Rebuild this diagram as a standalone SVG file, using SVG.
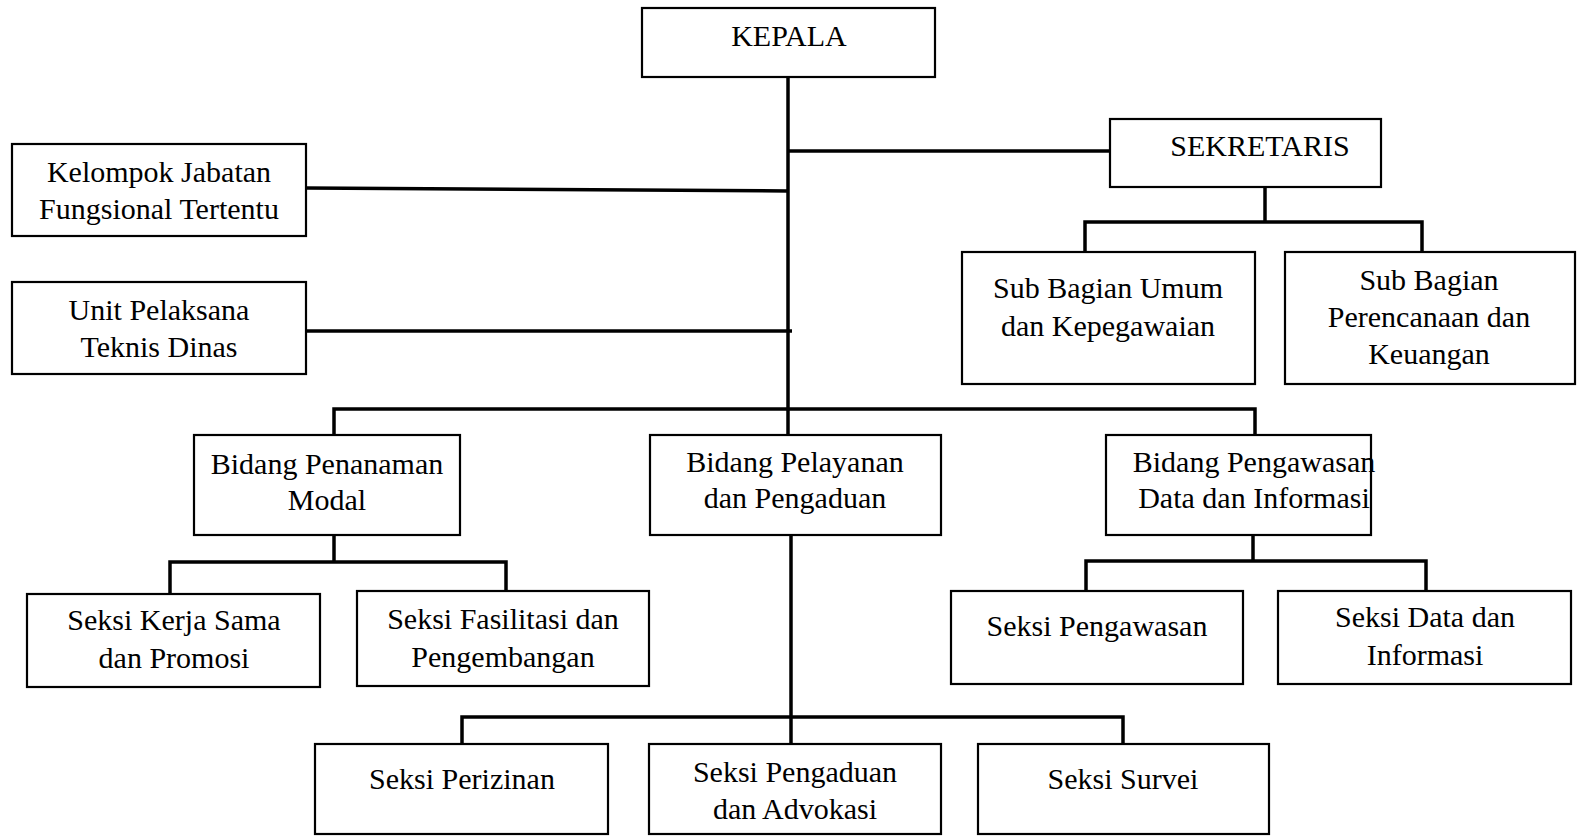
<svg xmlns="http://www.w3.org/2000/svg" width="1577" height="836" viewBox="0 0 1577 836">
<style>
.box{fill:#fff;stroke:#000;stroke-width:2.2}
.t{font-family:"Liberation Serif","Times New Roman",serif;font-size:30px;fill:#000;text-anchor:middle}
.c{fill:none;stroke:#000;stroke-width:3.5;stroke-linecap:butt;stroke-linejoin:miter}
</style>
<rect width="1577" height="836" fill="#fff"/>
<g id="connectors">
<path class="c" d="M788 77 V409"/>
<path class="c" d="M788 151 H1110"/>
<path class="c" d="M306 188 L788 191"/>
<path class="c" d="M306 331 H792"/>
<path class="c" d="M334 435 V409 H1255 V435"/>
<path class="c" d="M788 409 V435"/>
<path class="c" d="M1265 188 V222"/>
<path class="c" d="M1085 252 V222 H1422 V252"/>
<path class="c" d="M334 535 V562"/>
<path class="c" d="M170 594 V562 H506 V591"/>
<path class="c" d="M1253 535 V561"/>
<path class="c" d="M1086 591 V561 H1426 V591"/>
<path class="c" d="M791 535 V744"/>
<path class="c" d="M462 744 V717 H1123 V744"/>
</g>
<g id="kepala"><rect class="box" x="642" y="8" width="293" height="69"/><text class="t" x="789" y="46">KEPALA</text></g>
<g id="sekretaris"><rect class="box" x="1110" y="119" width="271" height="68"/><text class="t" x="1260" y="156">SEKRETARIS</text></g>
<g id="kelompok"><rect class="box" x="12" y="144" width="294" height="92"/><text class="t" x="159" y="182">Kelompok Jabatan</text><text class="t" x="159" y="219">Fungsional Tertentu</text></g>
<g id="upt"><rect class="box" x="12" y="282" width="294" height="92"/><text class="t" x="159" y="320">Unit Pelaksana</text><text class="t" x="159" y="357">Teknis Dinas</text></g>
<g id="subumum"><rect class="box" x="962" y="252" width="293" height="132"/><text class="t" x="1108" y="298">Sub Bagian Umum</text><text class="t" x="1108" y="336">dan Kepegawaian</text></g>
<g id="subrencana"><rect class="box" x="1285" y="252" width="290" height="132"/><text class="t" x="1429" y="290">Sub Bagian</text><text class="t" x="1429" y="327">Perencanaan dan</text><text class="t" x="1429" y="364">Keuangan</text></g>
<g id="bidpm"><rect class="box" x="194" y="435" width="266" height="100"/><text class="t" x="327" y="474">Bidang Penanaman</text><text class="t" x="327" y="510">Modal</text></g>
<g id="bidpel"><rect class="box" x="650" y="435" width="291" height="100"/><text class="t" x="795" y="472">Bidang Pelayanan</text><text class="t" x="795" y="508">dan Pengaduan</text></g>
<g id="bidpeng"><rect class="box" x="1106" y="435" width="265" height="100"/><text class="t" x="1254" y="472">Bidang Pengawasan</text><text class="t" x="1254" y="508">Data dan Informasi</text></g>
<g id="kerjasama"><rect class="box" x="27" y="594" width="293" height="93"/><text class="t" x="174" y="630">Seksi Kerja Sama</text><text class="t" x="174" y="668">dan Promosi</text></g>
<g id="fasilitasi"><rect class="box" x="357" y="591" width="292" height="95"/><text class="t" x="503" y="629">Seksi Fasilitasi dan</text><text class="t" x="503" y="667">Pengembangan</text></g>
<g id="pengawasan"><rect class="box" x="951" y="591" width="292" height="93"/><text class="t" x="1097" y="636">Seksi Pengawasan</text></g>
<g id="datainfo"><rect class="box" x="1278" y="591" width="293" height="93"/><text class="t" x="1425" y="627">Seksi Data dan</text><text class="t" x="1425" y="665">Informasi</text></g>
<g id="perizinan"><rect class="box" x="315" y="744" width="293" height="90"/><text class="t" x="462" y="789">Seksi Perizinan</text></g>
<g id="pengaduan"><rect class="box" x="649" y="744" width="292" height="90"/><text class="t" x="795" y="782">Seksi Pengaduan</text><text class="t" x="795" y="819">dan Advokasi</text></g>
<g id="survei"><rect class="box" x="978" y="744" width="291" height="90"/><text class="t" x="1123" y="789">Seksi Survei</text></g>
</svg>
